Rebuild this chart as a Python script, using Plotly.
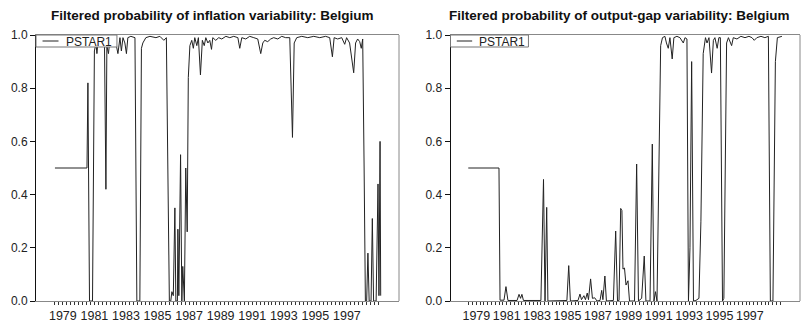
import plotly.graph_objects as go

# ---- data (decimal years, filtered probabilities) ----
infl_t = [
    1978.50, 1980.53, 1980.59, 1980.69, 1980.88, 1981.00, 1981.10, 1981.16, 1981.22, 1981.35,
    1981.54, 1981.64, 1981.73, 1981.79, 1981.89, 1981.98, 1982.17, 1982.36, 1982.49, 1982.62,
    1982.71, 1982.81, 1982.93, 1983.03, 1983.12, 1983.31, 1983.57, 1983.69, 1983.88, 1983.98,
    1984.07, 1984.26, 1984.52, 1984.90, 1985.15, 1985.40, 1985.56, 1985.75, 1985.84, 1985.91,
    1986.00, 1986.10, 1986.16, 1986.26, 1986.29, 1986.35, 1986.46, 1986.54, 1986.60, 1986.70,
    1986.79, 1986.88, 1986.95, 1987.05, 1987.17, 1987.27, 1987.36, 1987.49, 1987.59, 1987.72,
    1987.84, 1987.96, 1988.06, 1988.19, 1988.31, 1988.42, 1988.50, 1988.69, 1988.88, 1989.07,
    1989.33, 1989.58, 1989.83, 1990.09, 1990.21, 1990.34, 1990.59, 1990.84, 1991.10, 1991.35,
    1991.54, 1991.67, 1991.79, 1991.98, 1992.17, 1992.36, 1992.62, 1992.87, 1993.12, 1993.38,
    1993.55, 1993.66, 1993.82, 1994.14, 1994.52, 1994.90, 1995.28, 1995.65, 1995.91, 1996.08,
    1996.19, 1996.41, 1996.67, 1996.86, 1996.98, 1997.17, 1997.43, 1997.55, 1997.68, 1997.81,
    1997.91, 1998.00, 1998.09, 1998.17, 1998.25, 1998.33, 1998.41, 1998.53, 1998.61, 1998.69,
    1998.85, 1998.97, 1999.03, 1999.10, 1999.14]
infl_p = [
    0.50, 0.50, 0.82, 0.00, 0.00, 0.94, 0.97, 0.93, 0.97, 0.96,
    0.97, 0.96, 0.42, 0.96, 0.93, 0.98, 0.99, 0.97, 0.93, 0.99,
    0.94, 0.99, 0.97, 0.93, 0.99, 0.995, 0.99, 0.00, 0.00, 0.95,
    0.97, 0.99, 0.995, 0.99, 0.995, 0.98, 0.99, 0.00, 0.00, 0.035,
    0.02, 0.35, 0.00, 0.00, 0.27, 0.02, 0.55, 0.00, 0.13, 0.00,
    0.50, 0.26, 0.84, 0.96, 0.98, 0.95, 0.99, 0.96, 0.99, 0.85,
    0.98, 0.96, 0.99, 0.97, 0.98, 0.946, 0.99, 0.98, 0.99, 0.985,
    0.995, 0.99, 0.995, 0.99, 0.95, 0.99, 0.985, 0.995, 0.99, 0.985,
    0.93, 0.97, 0.98, 0.975, 0.985, 0.99, 0.985, 0.995, 0.99, 0.99,
    0.615, 0.97, 0.99, 0.995, 0.99, 0.995, 0.99, 0.995, 0.99, 0.918,
    0.99, 0.985, 0.99, 0.965, 0.99, 0.97, 0.858, 0.97, 0.985, 0.975,
    0.95, 0.985, 0.50, 0.00, 0.00, 0.18, 0.00, 0.00, 0.31, 0.00,
    0.00, 0.44, 0.02, 0.60, 0.02]

gap_t = [
    1978.47, 1980.49, 1980.56, 1980.82, 1980.95, 1981.08, 1981.68, 1981.81, 1981.91, 1982.00,
    1982.10, 1983.25, 1983.42, 1983.52, 1983.63, 1983.71, 1984.96, 1985.08, 1985.19, 1985.69,
    1985.82, 1985.92, 1986.08, 1986.18, 1986.30, 1986.38, 1986.52, 1986.64, 1986.79, 1986.94,
    1987.14, 1987.25, 1987.33, 1987.46, 1987.56, 1988.02, 1988.17, 1988.29, 1988.39, 1988.50,
    1988.58, 1988.65, 1988.75, 1988.85, 1988.98, 1989.08, 1989.41, 1989.55, 1989.67, 1989.88,
    1990.05, 1990.16, 1990.43, 1990.58, 1990.69, 1990.79, 1990.89, 1991.13, 1991.25, 1991.41,
    1991.51, 1991.63, 1991.74, 1991.89, 1992.00, 1992.20, 1992.40, 1992.62, 1992.73, 1992.86,
    1992.96, 1993.06, 1993.17, 1993.29, 1993.45, 1993.65, 1993.78, 1993.93, 1994.08, 1994.18,
    1994.31, 1994.48, 1994.60, 1994.70, 1994.85, 1994.96, 1995.06, 1995.20, 1995.29, 1995.47,
    1995.59, 1995.80, 1995.91, 1996.15, 1996.41, 1996.68, 1996.94, 1997.14, 1997.29, 1997.46,
    1997.73, 1997.99, 1998.22, 1998.35, 1998.52, 1998.68, 1998.81, 1999.11]
gap_p = [
    0.50, 0.50, 0.003, 0.003, 0.054, 0.002, 0.002, 0.025, 0.01, 0.025,
    0.002, 0.002, 0.457, 0.00, 0.352, 0.00, 0.002, 0.133, 0.00, 0.002,
    0.026, 0.005, 0.02, 0.005, 0.03, 0.005, 0.083, 0.01, 0.012, 0.00,
    0.002, 0.04, 0.005, 0.094, 0.00, 0.002, 0.263, 0.00, 0.002, 0.348,
    0.34, 0.12, 0.124, 0.06, 0.076, 0.00, 0.00, 0.515, 0.00, 0.01,
    0.169, 0.00, 0.00, 0.59, 0.00, 0.035, 0.00, 0.96, 0.99, 0.995,
    0.97, 0.95, 0.99, 0.91, 0.99, 0.995, 0.99, 0.97, 0.99, 0.985,
    0.00, 0.20, 0.90, 0.00, 0.002, 0.01, 0.30, 0.93, 0.99, 0.97,
    0.99, 0.857, 0.98, 0.99, 0.95, 0.99, 0.99, 0.00, 0.01, 0.97,
    0.99, 0.96, 0.99, 0.985, 0.995, 0.99, 0.995, 0.99, 0.98, 0.99,
    0.995, 0.99, 0.995, 0.00, 0.00, 0.90, 0.99, 0.995]

titles = ["Filtered probability of inflation variability: Belgium",
          "Filtered probability of output-gap variability: Belgium"]
series_name = "PSTAR1"
label_years = [1979, 1981, 1983, 1985, 1987, 1989, 1991, 1993, 1995, 1997]
y_ticks = [0.0, 0.2, 0.4, 0.6, 0.8, 1.0]

# quarterly minor ticks over the sample, labels on odd years
tick_vals = [1978.5 + 0.25 * i for i in range(83)]
tick_text = [str(int(round(v))) if (abs(v - round(v)) < 1e-9 and int(round(v)) in label_years) else ""
             for v in tick_vals]

FONT = "Liberation Sans, Arial, Helvetica, sans-serif"
W, H = 801, 322
ydom = [1 - 301 / H, 1 - 35 / H]
xdoms = [[36 / W, 399 / W], [450.5 / W, 800 / W]]

fig = go.Figure()
fig.add_trace(go.Scatter(x=infl_t, y=infl_p, mode="lines", name=series_name,
                         line=dict(color="#222222", width=1), xaxis="x", yaxis="y"))
fig.add_trace(go.Scatter(x=gap_t, y=gap_p, mode="lines", name=series_name,
                         line=dict(color="#222222", width=1), xaxis="x2", yaxis="y2"))

xcommon = dict(range=[1977.3, 2000.3], tickmode="array", tickvals=tick_vals, ticktext=tick_text,
               ticks="outside", ticklen=3, tickcolor="#333", tickwidth=1,
               showline=True, linecolor="#888", linewidth=1, mirror=True,
               showgrid=False, zeroline=False, automargin=False,
               tickfont=dict(family=FONT, size=12.5, color="#222"))
ycommon = dict(range=[0, 1], tickmode="array", tickvals=y_ticks, tickformat=".1f",
               ticks="outside", ticklen=5, tickcolor="#111", tickwidth=1,
               showline=True, linecolor="#111", linewidth=1, mirror=False,
               showgrid=False, zeroline=False, automargin=False,
               tickfont=dict(family=FONT, size=12, color="#222"))

fig.update_layout(
    width=W, height=H, autosize=False,
    margin=dict(l=0, r=0, t=0, b=0, autoexpand=False),
    paper_bgcolor="white", plot_bgcolor="white",
    xaxis=dict(domain=xdoms[0], anchor="y", **xcommon),
    yaxis=dict(domain=ydom, anchor="x", **ycommon),
    xaxis2=dict(domain=xdoms[1], anchor="y2", **xcommon),
    yaxis2=dict(domain=ydom, anchor="x2", **ycommon),
    showlegend=False,
)

for i, t in enumerate(titles):
    xr = "x domain" if i == 0 else "x2 domain"
    yr = "y domain" if i == 0 else "y2 domain"
    fig.add_annotation(text="<b>" + t + "</b>", xref="paper", yref="paper",
                       x=[212.5 / W, 619 / W][i], y=1 - 15 / H, xanchor="center", yanchor="middle",
                       showarrow=False, font=dict(family=FONT, size=13.5, color="#111"))
    # right-hand frame edge
    fig.add_shape(type="line", xref=xr, yref=yr, x0=1, x1=1, y0=0, y1=1,
                  line=dict(color="#888", width=1))
    # legend box (top-left, inside the frame)
    fig.add_shape(type="rect", xref=xr, yref=yr, x0=0, x1=0.223, y0=1 - 12 / 266, y1=1,
                  line=dict(color="#777", width=1), fillcolor="white", layer="above")
    fig.add_shape(type="line", xref=xr, yref=yr, x0=0.018, x1=0.062,
                  y0=1 - 6 / 266, y1=1 - 6 / 266,
                  line=dict(color="#222", width=1), layer="above")
    fig.add_annotation(text=series_name, xref=xr, yref=yr, x=0.076, y=1 - 6.5 / 266,
                       xanchor="left", yanchor="middle", showarrow=False,
                       font=dict(family=FONT, size=12, color="#222"))

fig.write_html("out.html")
